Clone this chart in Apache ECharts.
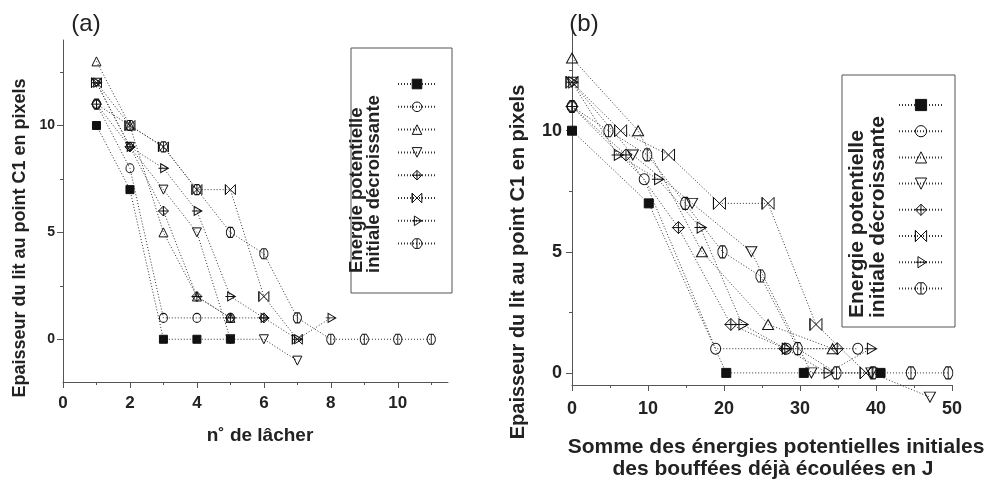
<!DOCTYPE html>
<html><head><meta charset="utf-8">
<script src="https://cdn.jsdelivr.net/npm/echarts@6/dist/echarts.min.js"></script>
<style>html,body{margin:0;padding:0;background:#fff}#c{width:990px;height:480px}</style>
</head><body><div id="c"></div>
<script>
// ---------- DATA ----------
const seriesNames = ['E1', 'E2', 'E3', 'E4', 'E5', 'E6', 'E7', 'E8'];
const releaseNumbers = [1, 2, 3, 4, 5, 6, 7, 8, 9, 10, 11];

// Thickness (pixels) at each release, per series (same values used in both panels)
const thickSquare   = [10, 7, 0, 0, 0];
const thickCircle   = [11, 8, 1, 1, 1];
const thickTriUp    = [13, 10, 5, 2, 1];
const thickTriDown  = [12, 9, 7, 5, 0, 0, -1];
const thickDiamond  = [11, 9, 6, 2, 1, 1];
const thickBowtie   = [12, 10, 9, 7, 7, 2, 0];
const thickTriRight = [12, 9, 8, 6, 2, 1, 0, 1];
const thickHexagon  = [11, 10, 9, 7, 5, 4, 1, 0, 0, 0, 0];

// Cumulative initial potential energy (J) of the releases, per series (panel b)
const energySquare   = [0, 10.1, 20.3, 30.5, 40.6];
const energyCircle   = [0, 9.5, 18.9, 28.2, 37.6];
const energyTriUp    = [0, 8.7, 17.1, 25.8, 34.3];
const energyTriDown  = [0, 8.0, 15.8, 23.6, 31.5, 39.4, 47.1];
const energyDiamond  = [0, 7.1, 14.0, 20.9, 28.0, 34.9];
const energyBowtie   = [0, 6.4, 12.7, 19.4, 25.8, 32.1, 38.7];
const energyTriRight = [0, 6.0, 11.3, 16.9, 22.4, 28.1, 33.6, 39.3];
const energyHexagon  = [0, 4.8, 9.9, 14.9, 19.8, 24.8, 29.7, 34.8, 39.6, 44.6, 49.5];

// Tick labels
const yTicks = [0, 5, 10];
const yMinorTicks = [2.5, 7.5, 12.5];
const leftXTicks = [0, 2, 4, 6, 8, 10];
const leftXMinorTicks = [1, 3, 5, 7, 9, 11];
const rightXTicks = [0, 10, 20, 30, 40, 50];
const rightXMinorTicks = [5, 15, 25, 35, 45];

// ---------- STYLE ----------
const FONT = '"Liberation Sans", Arial, sans-serif';
const AX = '#555';
const LINE = '#333';
const markers = [
  {sym: 'rect', l: [8, 8], r: [9, 9], fill: true},
  {sym: 'circle', l: [8, 9], r: [10, 11]},
  {sym: 'path://M0,-1L1,1L-1,1Z', l: [9, 9], r: [11, 10]},
  {sym: 'path://M-1,-1L1,-1L0,1Z', l: [9, 9], r: [11, 10]},
  {sym: 'path://M0,-1L1,0L0,1L-1,0ZM0,-1L0,1M-1,0L1,0', l: [10, 10], r: [12, 12]},
  {sym: 'path://M-1,-1L1,1L1,-1L-1,1ZM-1,-1L-1,1', l: [10, 10], r: [12, 12]},
  {sym: 'path://M-0.7,-1L1,0L-0.7,1ZM-1.2,0L1,0', l: [10, 9], r: [12, 11]},
  {sym: 'path://M-0.4,-1L0.4,-1L0.8,-0.35L0.8,0.35L0.4,1L-0.4,1L-0.8,0.35L-0.8,-0.35ZM0,-1L0,1', l: [8, 10], r: [9, 12]}
];
const thick = [thickSquare, thickCircle, thickTriUp, thickTriDown, thickDiamond, thickBowtie, thickTriRight, thickHexagon];
const energy = [energySquare, energyCircle, energyTriUp, energyTriDown, energyDiamond, energyBowtie, energyTriRight, energyHexagon];

const series = [];
thick.forEach((ys, i) => {
  const m = markers[i];
  const common = {
    type: 'line', name: seriesNames[i], symbol: m.sym, clip: false,
    lineStyle: {color: LINE, width: 1, type: [1, 2]},
    itemStyle: {color: m.fill ? '#111' : 'rgba(0,0,0,0)', borderColor: '#111', borderWidth: 1},
    emphasis: {disabled: true}
  };
  series.push(Object.assign({}, common, {
    xAxisIndex: 0, yAxisIndex: 0, symbolSize: m.l,
    data: ys.map((v, k) => [releaseNumbers[k], v])
  }));
  series.push(Object.assign({}, common, {
    xAxisIndex: 1, yAxisIndex: 1, symbolSize: m.r,
    data: ys.map((v, k) => [energy[i][k], v])
  }));
});

function mainAxis(grid, min, max, ticks, fs, margin, isY) {
  return {
    gridIndex: grid, type: 'value', min: min, max: max,
    axisLine: {show: true, onZero: false, lineStyle: {color: AX, width: 1}},
    axisTick: {show: true, customValues: ticks, length: 6, lineStyle: {color: AX}},
    axisLabel: {customValues: ticks, fontFamily: FONT, fontWeight: 'bold', fontSize: fs, color: '#222', margin: margin},
    splitLine: {show: false}
  };
}
function minorAxis(grid, min, max, ticks) {
  return {
    gridIndex: grid, type: 'value', min: min, max: max,
    axisLine: {show: false, onZero: false},
    axisTick: {show: true, customValues: ticks, length: 3, lineStyle: {color: AX}},
    axisLabel: {show: false},
    splitLine: {show: false}
  };
}

const legendCommon = {
  orient: 'vertical', padding: 0, selectedMode: false, formatter: () => '',
  data: seriesNames, itemStyle: {borderWidth: 1}, textStyle: {fontSize: 1}
};

function vtext(x, y, txt, size, align) {
  return {
    type: 'text', x: x, y: y, rotation: Math.PI / 2, z: 10,
    style: {text: txt, font: 'bold ' + size + 'px ' + FONT, fill: '#222',
      textAlign: align, align: align, textVerticalAlign: 'middle', verticalAlign: 'middle'}
  };
}
function htext(x, y, txt, font) {
  return {
    type: 'text', x: x, y: y, z: 10,
    style: {text: txt, font: font, fill: '#222',
      textAlign: 'center', align: 'center', textVerticalAlign: 'middle', verticalAlign: 'middle'}
  };
}

const option = {
  animation: false,
  backgroundColor: '#fff',
  grid: [
    {left: 63, top: 40, width: 385, height: 342},
    {left: 572, top: 29, width: 380, height: 356},
    {left: 63, top: 40, width: 385, height: 342},
    {left: 572, top: 29, width: 380, height: 356}
  ],
  xAxis: [
    mainAxis(0, 0, 11.5, leftXTicks, 17, 13),
    mainAxis(1, 0, 50, rightXTicks, 18, 15),
    minorAxis(2, 0, 11.5, leftXMinorTicks),
    minorAxis(3, 0, 50, rightXMinorTicks)
  ],
  yAxis: [
    mainAxis(0, -2, 14, yTicks, 14, 8, true),
    mainAxis(1, -0.5, 14.2, yTicks, 18, 10, true),
    minorAxis(2, -2, 14, yMinorTicks),
    minorAxis(3, -0.5, 14.2, yMinorTicks)
  ],
  legend: [
    Object.assign({}, legendCommon, {left: 397, top: 78, itemWidth: 38, itemHeight: 12, itemGap: 11.5}),
    Object.assign({}, legendCommon, {left: 898, top: 98, itemWidth: 44, itemHeight: 14, itemGap: 13.1})
  ],
  graphic: [
    {type: 'rect', z: 1, shape: {x: 351, y: 48, width: 101, height: 245}, style: {fill: '#fff', stroke: '#555', lineWidth: 1}},
    {type: 'rect', z: 1, shape: {x: 842, y: 75, width: 113, height: 252}, style: {fill: '#fff', stroke: '#555', lineWidth: 1}},
    vtext(357, 273, 'Energie potentielle', 18.5, 'left'),
    vtext(374, 273, 'initiale décroissante', 18.5, 'left'),
    vtext(857, 318, 'Energie potentielle', 21, 'left'),
    vtext(878, 318, 'initiale décroissante', 21, 'left'),
    vtext(20, 238, 'Epaisseur du lit au point C1 en pixels', 18, 'center'),
    vtext(518, 262, 'Epaisseur du lit au point C1 en pixels', 20, 'center'),
    htext(260, 436, 'n˚ de lâcher', 'bold 19px ' + FONT),
    htext(776, 447, 'Somme des énergies potentielles initiales', 'bold 21px ' + FONT),
    htext(773, 469, 'des bouffées déjà écoulées en J', 'bold 21px ' + FONT),
    htext(86, 24, '(a)', '24px ' + FONT),
    htext(584, 24, '(b)', '24px ' + FONT)
  ],
  series: series
};

const chart = echarts.init(document.getElementById('c'), null, {renderer: 'canvas'});
chart.setOption(option);
</script>
</body></html>
